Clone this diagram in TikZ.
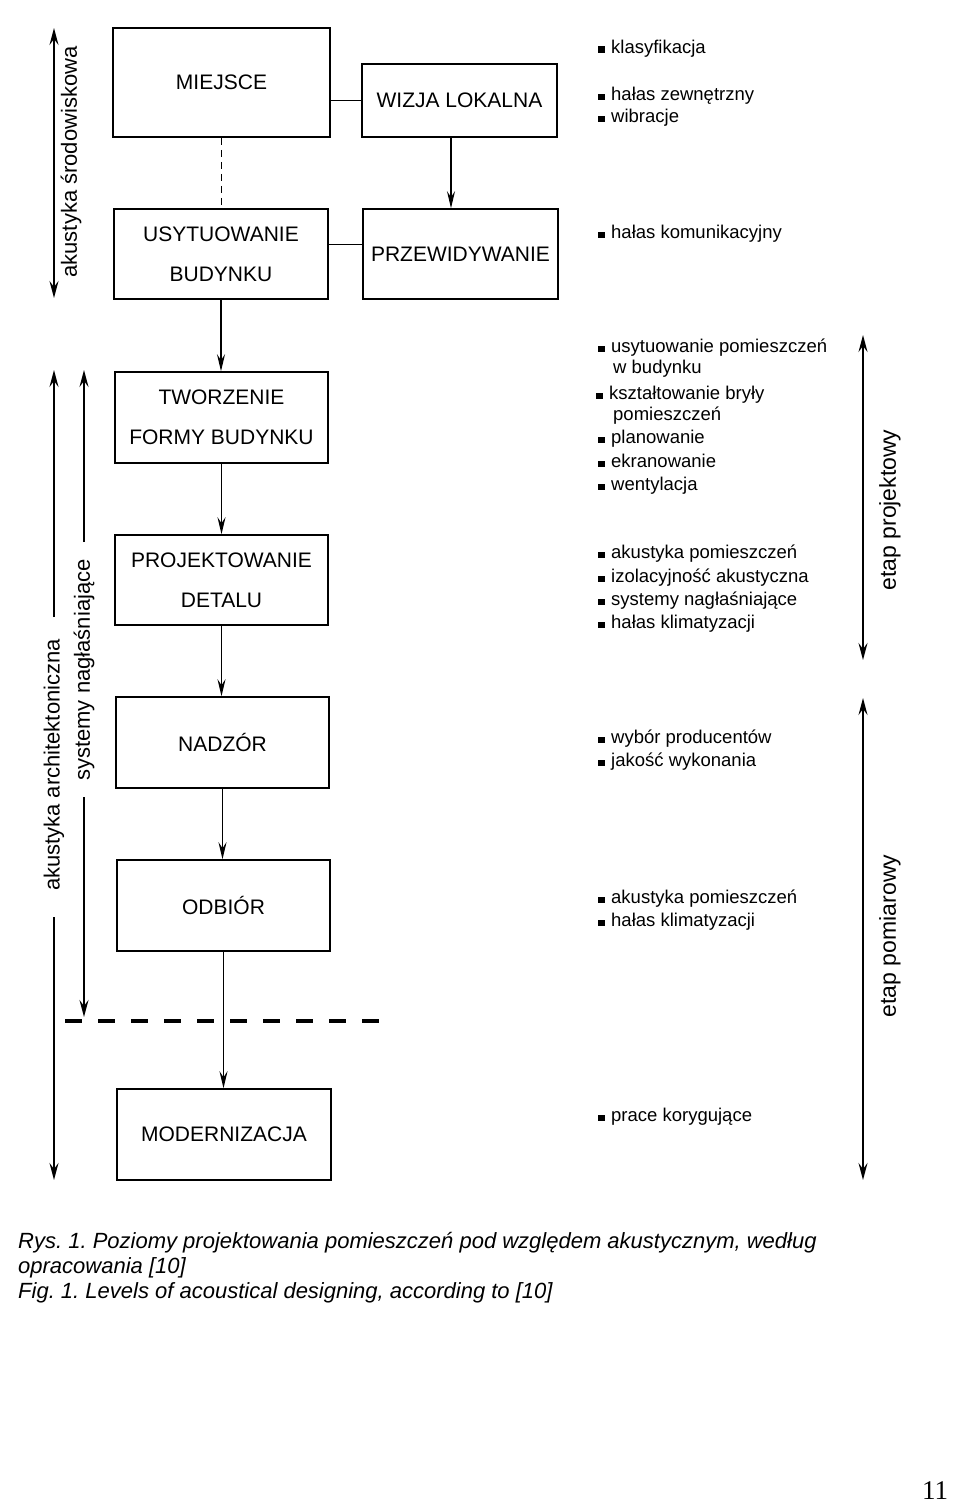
\documentclass[tikz,border=0pt]{standalone}
\usepackage{fontspec}
\setmainfont{Liberation Sans}
\newfontfamily\pgnumfont{Liberation Serif}
\usetikzlibrary{arrows.meta,calc}
\newcommand\sqb{\rule[0pt]{6.5pt}{6.5pt}\hspace{6.5pt}}
\frenchspacing
\begin{document}
\begin{tikzpicture}[x=1pt,y=-1pt,
  box/.style={draw,line width=1.5pt,minimum width=213pt,minimum height=91pt,inner sep=0pt,align=center,font=\fontsize{21}{40}\selectfont},
  conn/.style={line width=1.3pt},
  arr/.style={line width=1.3pt,-{Stealth[length=17pt,width=8pt,inset=6pt]}},
  darr/.style={line width=1.6pt,{Stealth[length=17pt,width=9pt,inset=6pt]}-{Stealth[length=17pt,width=9pt,inset=6pt]}},
  uarr/.style={line width=1.6pt,-{Stealth[length=17pt,width=9pt,inset=6pt]}},
  item/.style={anchor=base west,inner sep=0pt,font=\fontsize{18.5}{23}\selectfont},
  vlab/.style={rotate=90,inner sep=0pt,font=\fontsize{22}{24}\selectfont},
  rlab/.style={rotate=90,inner sep=0pt,font=\fontsize{23}{26}\selectfont},
  captext/.style={anchor=base west,inner sep=0pt,font=\fontsize{22}{25}\selectfont\itshape}]
\useasboundingbox (0,0) rectangle (960,1512);
\fill[white] (0,0) rectangle (960,1512);

% boxes
\node[box,minimum width=217pt,minimum height=109pt] (miejsce) at (221.5,82.5) {MIEJSCE};
\node[box,minimum width=195pt,minimum height=73pt] (wizja) at (459.5,100.5) {WIZJA LOKALNA};
\node[box,minimum width=214pt,minimum height=90pt] (usyt) at (221,254) {USYTUOWANIE\\BUDYNKU};
\node[box,minimum width=195pt,minimum height=90pt] (przew) at (460.5,254) {PRZEWIDYWANIE};
\node[box,minimum height=91pt] (tworz) at (221.5,417.5) {TWORZENIE\\FORMY BUDYNKU};
\node[box,minimum height=90pt] (proj) at (221.5,580) {PROJEKTOWANIE\\DETALU};
\node[box] (nadzor) at (222.5,742.5) {NADZÓR};
\node[box] (odbior) at (223.5,905.5) {ODBIÓR};
\node[box,minimum width=214pt] (modern) at (224,1134.5) {MODERNIZACJA};

% connectors
\draw[conn] (miejsce.east |- wizja.west) -- (wizja.west);
\draw[conn] (usyt.north east) ++(0,36) coordinate (c1) -- (c1 -| przew.west);
\draw[conn,dashed,dash pattern=on 7pt off 5pt] (miejsce.south) -- (miejsce.south |- usyt.north);
\draw[arr] ([xshift=-8.5pt]wizja.south) -- ([xshift=-8.5pt]wizja.south |- przew.north);
\draw[arr] (usyt.south) -- (usyt.south |- tworz.north);
\draw[arr] (tworz.south) -- (tworz.south |- proj.north);
\draw[arr] (proj.south) -- (proj.south |- nadzor.north);
\draw[arr] (nadzor.south) -- (nadzor.south |- odbior.north);
\draw[arr] (odbior.south) -- (odbior.south |- modern.north);

% thick dashed line
\coordinate (dl) at (65,1021);
\coordinate (dr) at (380,1021);
\draw[line width=4pt,dash pattern=on 17pt off 16pt] (dl) -- (dr);

% left side arrows and labels
\coordinate (s1) at (54,28);
\coordinate (s2) at (54,298);
\draw[darr] (s1) -- (s2);
\node[vlab] (srod) at (71,162) {akustyka środowiskowa};

\node[vlab] (arch) at (54,765) {akustyka architektoniczna};
\coordinate (a1) at (54,617);
\coordinate (a2) at (54,370);
\coordinate (a3) at (54,917);
\coordinate (a4) at (54,1180);
\draw[uarr] (a1) -- (a2);
\draw[uarr] (a3) -- (a4);

\node[vlab] (syst) at (84,670) {systemy nagłaśniające};
\coordinate (b1) at (84,542);
\coordinate (b2) at (84,370);
\coordinate (b3) at (84,797);
\coordinate (b4) at (84,1017);
\draw[uarr] (b1) -- (b2);
\draw[uarr] (b3) -- (b4);

% right side arrows and labels
\coordinate (p1) at (863,335);
\coordinate (p2) at (863,660);
\draw[darr] (p1) -- (p2);
\node[rlab] (etproj) at (890,510) {etap projektowy};
\coordinate (m1) at (863,698);
\coordinate (m2) at (863,1180);
\draw[darr] (m1) -- (m2);
\node[rlab] (etpom) at (890,936) {etap pomiarowy};

% lists
\node[item] (l1) at (598,53) {\sqb klasyfikacja};
\node[item] (l2) at (598,100) {\sqb hałas zewnętrzny};
\node[item] (l3) at (598,122) {\sqb wibracje};
\node[item] (l4) at (598,238) {\sqb hałas komunikacyjny};
\node[item] (l5) at (598,352) {\sqb usytuowanie pomieszczeń};
\node[item] (l6) at (613,373) {w budynku};
\node[item] (l7) at (596,399) {\sqb kształtowanie bryły};
\node[item] (l8) at (613,420) {pomieszczeń};
\node[item] (l9) at (598,443) {\sqb planowanie};
\node[item] (l10) at (598,467) {\sqb ekranowanie};
\node[item] (l11) at (598,490) {\sqb wentylacja};
\node[item] (l12) at (598,558) {\sqb akustyka pomieszczeń};
\node[item] (l13) at (598,582) {\sqb izolacyjność akustyczna};
\node[item] (l14) at (598,605) {\sqb systemy nagłaśniające};
\node[item] (l15) at (598,628) {\sqb hałas klimatyzacji};
\node[item] (l16) at (598,743) {\sqb wybór producentów};
\node[item] (l17) at (598,766) {\sqb jakość wykonania};
\node[item] (l18) at (598,903) {\sqb akustyka pomieszczeń};
\node[item] (l19) at (598,926) {\sqb hałas klimatyzacji};
\node[item] (l20) at (598,1121) {\sqb prace korygujące};

% caption
\node[captext] (cap1) at (18,1248) {Rys. 1. Poziomy projektowania pomieszczeń pod względem akustycznym, według};
\node[captext] (cap2) at (18,1273) {opracowania [10]};
\node[captext] (cap3) at (18,1298) {Fig. 1. Levels of acoustical designing, according to [10]};

% page number
\node[inner sep=0pt,font=\fontsize{27}{30}\selectfont\pgnumfont] (pg) at (935,1491) {11};
\end{tikzpicture}
\end{document}
